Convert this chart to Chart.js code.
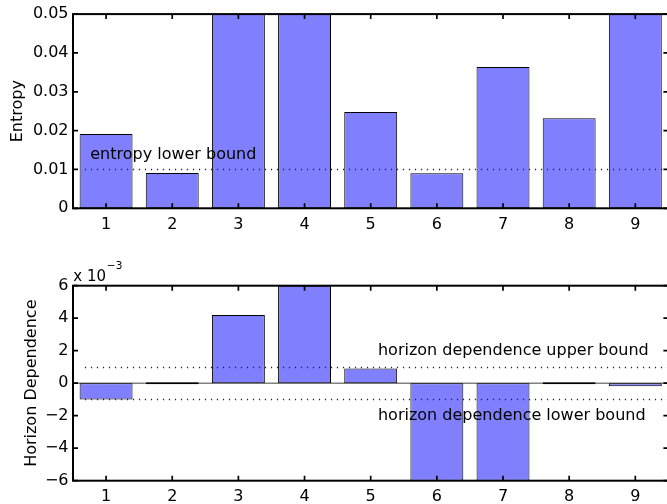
<!DOCTYPE html>
<html><head><meta charset="utf-8">
<script src="https://cdn.jsdelivr.net/npm/chart.js@4"></script>
<style>
html,body{margin:0;padding:0;background:#fff;overflow:hidden;width:667px;height:504px;}
#wrap{position:relative;width:667px;height:504px;overflow:hidden;background:#fff;}
canvas{position:absolute;left:0;}
#c1{top:0;}
#c2{top:250px;}
</style></head><body>
<div id="wrap">
<canvas id="c1" width="680" height="250"></canvas>
<canvas id="c2" width="680" height="254"></canvas>
</div>
<script>
// ---- data ----
const categories = ['1','2','3','4','5','6','7','8','9'];
const entropyValues = [0.0191, 0.0091, 0.05, 0.05, 0.0248, 0.0090, 0.0364, 0.0232, 0.05];
// horizon dependence in units of 1e-3
const horizonValues = [-1.0, 0, 4.2, 6.0, 0.9, -6.0, -6.0, 0, -0.18];
const entropyTicks = [0, 0.01, 0.02, 0.03, 0.04, 0.05];
const entropyTickLabels = ['0', '0.01', '0.02', '0.03', '0.04', '0.05'];
const horizonTicks = [-6, -4, -2, 0, 2, 4, 6];
const horizonTickLabels = ['\u22126', '\u22124', '\u22122', '0', '2', '4', '6'];
const entropyBounds = [0.01];
const horizonBounds = [1, -1];

// ---- styling ----
const FONT = 'DejaVu Sans';
Chart.defaults.font.family = FONT;
Chart.defaults.font.size = 16;
Chart.defaults.color = '#000';

const framePlugin = {
  id: 'frame',
  beforeDatasetsDraw(chart, args, opts) {
    const {ctx, chartArea, scales: {y}} = chart;
    if (opts.baseline) {
      ctx.save();
      ctx.strokeStyle = '#808080';
      ctx.lineWidth = 1.5;
      const py = y.getPixelForValue(0);
      ctx.beginPath(); ctx.moveTo(chartArea.left, py); ctx.lineTo(chartArea.right, py); ctx.stroke();
      ctx.restore();
    }
  },
  afterDatasetsDraw(chart, args, opts) {
    const {ctx, chartArea, scales: {x, y}} = chart;
    ctx.save();
    // dotted bound lines
    ctx.strokeStyle = '#222';
    ctx.lineWidth = 1.6;
    ctx.setLineDash([1.2, 4.8]);
    (opts.lines || []).forEach(v => {
      const py = Math.round(y.getPixelForValue(v)) + 0.5;
      ctx.beginPath();
      ctx.moveTo(x.getPixelForValue(opts.lineStart - 1), py);
      ctx.lineTo(chartArea.right, py);
      ctx.stroke();
    });
    ctx.setLineDash([]);
    // annotations
    ctx.fillStyle = '#000';
    ctx.font = '16px "' + FONT + '"';
    ctx.textAlign = 'left';
    ctx.textBaseline = 'middle';
    (opts.texts || []).forEach(t => {
      ctx.fillText(t.text, x.getPixelForValue(t.x - 1), y.getPixelForValue(t.y));
    });
    ctx.restore();
  },
  afterDraw(chart, args, opts) {
    const {ctx, chartArea: ca, scales: {x, y}} = chart;
    ctx.save();
    ctx.strokeStyle = '#000';
    ctx.lineWidth = 1.7;
    const L = 5;
    x.ticks.forEach((t, i) => {
      const px = x.getPixelForTick(i);
      ctx.beginPath();
      ctx.moveTo(px, ca.bottom); ctx.lineTo(px, ca.bottom - L);
      ctx.moveTo(px, ca.top); ctx.lineTo(px, ca.top + L);
      ctx.stroke();
    });
    y.ticks.forEach(t => {
      const py = y.getPixelForValue(t.value);
      ctx.beginPath();
      ctx.moveTo(ca.left, py); ctx.lineTo(ca.left + L, py);
      ctx.moveTo(ca.right, py); ctx.lineTo(ca.right - L, py);
      ctx.stroke();
    });
    ctx.lineWidth = 2;
    ctx.strokeRect(ca.left, ca.top, ca.right - ca.left, ca.bottom - ca.top);
    if (opts.exponent) {
      ctx.fillStyle = '#000';
      ctx.textAlign = 'left';
      ctx.textBaseline = 'alphabetic';
      ctx.font = '15px "' + FONT + '"';
      const base = 'x 10';
      ctx.fillText(base, ca.left + 0.3, ca.top - 4.7);
      const w = ctx.measureText(base).width;
      ctx.font = '10.5px "' + FONT + '"';
      ctx.fillText(opts.exponent, ca.left + 0.3 + w + 0.8, ca.top - 16.7);
    }
    ctx.restore();
  }
};

function makeChart(id, values, tickVals, tickLabels, yMin, yMax, title, titlePad, pad, xHeight, pluginOpts) {
  return new Chart(document.getElementById(id), {
    type: 'bar',
    data: {
      labels: categories,
      datasets: [{
        data: values,
        backgroundColor: '#8080ff',
        borderColor: '#000',
        borderWidth: 1,
        borderSkipped: false,
        barPercentage: 0.8,
        categoryPercentage: 1.0,
        minBarLength: 2,
        clip: 0
      }]
    },
    options: {
      responsive: false,
      animation: false,
      events: [],
      layout: { padding: pad },
      plugins: { legend: { display: false }, tooltip: { enabled: false }, frame: pluginOpts },
      scales: {
        x: {
          offset: true,
          grid: { display: false, drawTicks: false },
          border: { display: false },
          ticks: { padding: 7, maxRotation: 0, autoSkip: false, font: { size: 16 } },
          afterFit: s => { s.height = xHeight; }
        },
        y: {
          min: yMin, max: yMax,
          grid: { display: false, drawTicks: false },
          border: { display: false },
          afterBuildTicks: s => { s.ticks = tickVals.map(v => ({ value: v })); },
          ticks: {
            padding: 4.5,
            font: { size: 16 },
            callback: (v, i) => tickLabels[i]
          },
          title: { display: true, text: title, font: { size: 16 }, padding: { top: titlePad, bottom: 0 } },
          afterFit: s => { s.width = 73; }
        }
      }
    },
    plugins: [framePlugin]
  });
}

makeChart('c1', entropyValues, entropyTicks, entropyTickLabels, 0, 0.05, 'Entropy', 7.9,
  { left: 0, right: 11.6, top: 13.3, bottom: 0 }, 41.7,
  { lines: entropyBounds, lineStart: 0.68,
    texts: [{ text: 'entropy lower bound', x: 0.76, y: 0.0138 }] });

makeChart('c2', horizonValues, horizonTicks, horizonTickLabels, -6, 6, 'Horizon Dependence', 22.1,
  { left: 0, right: 11.6, top: 35.7, bottom: 0 }, 23.3,
  { lines: horizonBounds, lineStart: 0.68, baseline: true, exponent: '\u22123',
    texts: [
      { text: 'horizon dependence upper bound', x: 5.11, y: 2.0 },
      { text: 'horizon dependence lower bound', x: 5.11, y: -2.0 }
    ] });
</script>
</body></html>
